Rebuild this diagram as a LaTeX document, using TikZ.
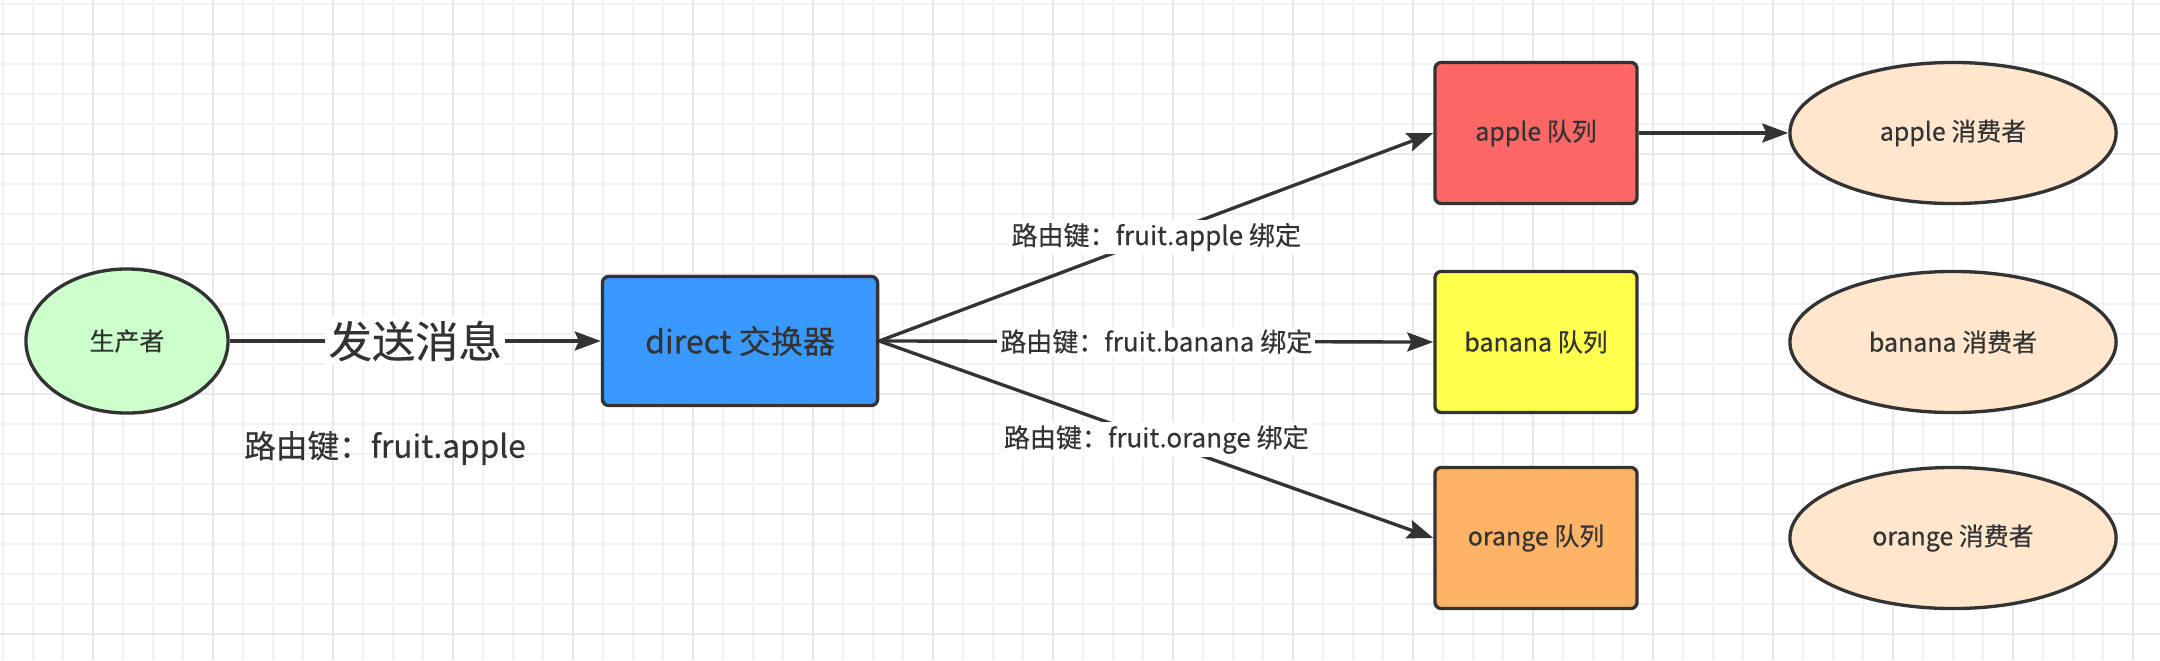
\documentclass[tikz,border=0pt]{standalone}
\usepackage{fontspec}
\setmainfont[FakeBold=0.35]{Noto Sans CJK SC}
\usetikzlibrary{shapes.geometric,arrows.meta}
\definecolor{txt}{HTML}{333333}
\definecolor{edgec}{HTML}{333333}
\definecolor{gridminor}{RGB}{242,242,245}
\definecolor{gridmajor}{RGB}{231,231,236}
\definecolor{prodfill}{HTML}{CCFFCC}
\definecolor{exfill}{HTML}{3999FF}
\definecolor{applefill}{HTML}{FF6666}
\definecolor{bananafill}{HTML}{FFFF4D}
\definecolor{orangefill}{HTML}{FFB366}
\definecolor{consfill}{HTML}{FFE6CC}
\tikzset{
  boxnode/.style={draw=edgec, line width=0.95pt, rounded corners=1.8pt, minimum width=2.02cm, minimum height=1.41cm, inner sep=0pt, text=txt, font=\fontsize{7.1}{8}\selectfont},
  ellnode/.style={ellipse, draw=edgec, line width=0.95pt, inner sep=0pt, text=txt, font=\fontsize{7.1}{8}\selectfont},
  conn/.style={draw=edgec, line width=0.95pt, -{Stealth[length=7.4pt,width=5.4pt,inset=1.2pt]}},
  lbl/.style={fill=white, inner sep=0.8pt, text=txt, font=\fontsize{7.4}{8}\selectfont},
  gminor/.style={draw=gridminor, line width=0.55pt},
  gmajor/.style={draw=gridmajor, line width=0.55pt}
}
\begin{document}
\begin{tikzpicture}[x=0.01cm,y=-0.01cm]
\fill[white] (0,0) rectangle (2160,660);
\useasboundingbox (0,0) rectangle (2160,660);
% grid
\foreach \i in {0,...,71} {\draw[gminor] ({2.7+30*\i},0) -- ({2.7+30*\i},660);}
\foreach \j in {0,...,21} {\draw[gminor] (0,{4+30*\j}) -- (2160,{4+30*\j});}
\foreach \i in {0,...,17} {\draw[gmajor] ({92.7+120*\i},0) -- ({92.7+120*\i},660);}
\foreach \j in {0,...,5} {\draw[gmajor] (0,{34+120*\j}) -- (2160,{34+120*\j});}
% nodes
\node[ellnode, fill=prodfill, minimum width=2.02cm, minimum height=1.44cm] (prod) at (127,341) {生产者};
\node[boxnode, fill=exfill, minimum width=2.75cm, minimum height=1.29cm, font=\fontsize{9.1}{10}\selectfont] (ex) at (740,341) {direct 交换器};
\node[boxnode, fill=applefill] (qa) at (1536,133) {apple 队列};
\node[boxnode, fill=bananafill] (qb) at (1536,342) {banana 队列};
\node[boxnode, fill=orangefill] (qo) at (1536,538) {orange 队列};
\node[ellnode, fill=consfill, minimum width=3.26cm, minimum height=1.41cm] (ca) at (1953,133) {apple 消费者};
\node[ellnode, fill=consfill, minimum width=3.26cm, minimum height=1.41cm] (cb) at (1953,342) {banana 消费者};
\node[ellnode, fill=consfill, minimum width=3.26cm, minimum height=1.41cm] (co) at (1953,538) {orange 消费者};
\node[text=txt, font=\fontsize{9}{10}\selectfont] (rk) at (385,448) {路由键：fruit.apple};
% connectors
\draw[conn] (prod.east) -- node[lbl, font=\fontsize{12.3}{13}\selectfont, inner sep=1pt] {发送消息} (ex.west);
\draw[conn] (ex.east) -- node[lbl] {路由键：fruit.apple 绑定} (qa.west);
\draw[conn] (ex.east) -- node[lbl] {路由键：fruit.banana 绑定} (qb.west);
\draw[conn] (ex.east) -- node[lbl] {路由键：fruit.orange 绑定} (qo.west);
\draw[conn] (qa.east) -- (ca.west);
\end{tikzpicture}
\end{document}
